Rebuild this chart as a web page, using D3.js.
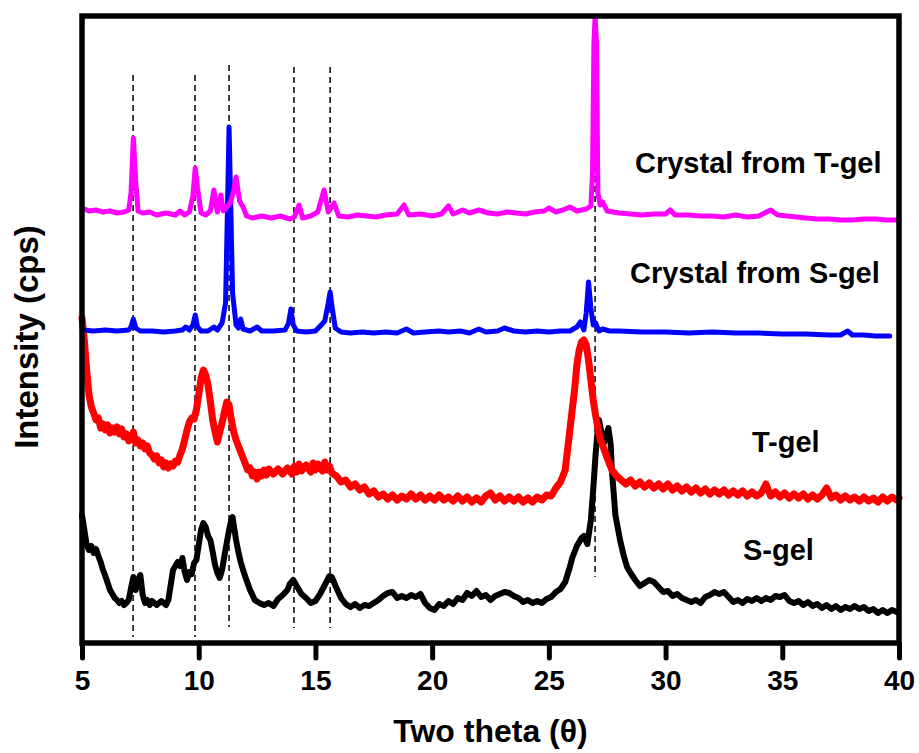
<!DOCTYPE html>
<html>
<head>
<meta charset="utf-8">
<script src="https://cdn.jsdelivr.net/npm/d3@7"></script>
<style>
    body { margin: 0; background: #fff; }
    #chart { width: 919px; height: 753px; }
    text { font-family: "Liberation Sans", Arial, sans-serif; font-weight: bold; fill: #000; }
</style>
</head>
<body>
<div id="chart"></div>
<script>
// two theta (deg), intensity (a.u.)
const crystalTGel = [
    [5.0,435],[5.3,432],[5.6,433],[5.9,431],[6.2,432],[6.5,430],[6.8,431],[7.0,433],[7.1,450],[7.2,505],
    [7.3,462],[7.4,432],[7.6,430],[7.9,431],[8.2,428],[8.6,430],[9.0,428],[9.2,432],[9.4,428],[9.6,431],
    [9.75,447],[9.85,475],[9.95,455],[10.1,430],[10.3,428],[10.5,432],[10.65,453],[10.8,431],[10.95,448],
    [11.05,432],[11.2,436],[11.35,440],[11.5,452],[11.6,466],[11.75,442],[11.9,436],[12.05,427],[12.3,425],
    [12.7,427],[13.1,425],[13.5,427],[13.9,424],[14.1,426],[14.3,438],[14.45,425],[14.8,427],[15.1,431],
    [15.37,453],[15.55,431],[15.8,440],[16.0,427],[16.4,426],[16.8,428],[17.2,427],[17.6,426],[18.0,428],
    [18.5,429],[18.8,438],[19.0,428],[19.5,429],[20.0,427],[20.4,429],[20.7,437],[20.9,429],[21.3,433],
    [21.6,430],[22.0,433],[22.4,430],[22.8,429],[23.2,431],[23.6,430],[24.0,429],[24.4,431],[24.8,432],
    [25.0,435],[25.3,431],[25.6,433],[25.9,436],[26.2,432],[26.6,434],[26.8,437],[26.87,470],[26.93,600],
    [26.98,626],[27.04,600],[27.1,450],[27.2,438],[27.3,441],[27.5,432],[28.0,430],[28.5,429],[29.0,428],
    [29.5,429],[30.0,429],[30.2,433],[30.4,428],[31.0,428],[31.5,427],[32.0,427],[32.5,426],[33.0,428],
    [33.5,426],[34.0,427],[34.5,433],[34.8,428],[35.2,427],[35.6,426],[36.0,425],[36.5,424],[37.0,424],
    [37.5,423],[38.0,423],[38.5,424],[39.0,424],[39.5,423],[40.0,423]
];

const crystalSGel = [
    [5.05,313],[5.5,312],[6.0,313],[6.5,312],[7.0,313],[7.1,316],[7.2,324],[7.3,315],[7.5,312],[8.0,312],
    [8.5,311],[9.0,312],[9.3,313],[9.45,316],[9.6,313],[9.75,318],[9.85,328],[9.95,316],[10.1,312],
    [10.4,312],[10.65,316],[10.8,313],[11.0,320],[11.15,340],[11.22,420],[11.3,516],[11.38,430],
    [11.45,350],[11.6,318],[11.7,315],[11.8,324],[11.9,314],[12.2,312],[12.5,316],[12.7,312],[13.2,312],
    [13.7,313],[13.85,320],[13.95,334],[14.05,318],[14.2,312],[14.6,311],[15.0,312],[15.25,318],
    [15.4,322],[15.55,340],[15.63,351],[15.72,335],[15.85,315],[16.1,311],[16.5,310],[17.0,311],
    [17.5,310],[18.0,311],[18.5,310],[18.9,314],[19.2,310],[19.7,311],[20.3,312],[20.7,311],[21.2,312],
    [21.6,310],[22.0,314],[22.3,311],[22.8,312],[23.1,315],[23.5,312],[24.0,311],[24.5,312],[25.0,311],
    [25.5,312],[25.9,312],[26.2,316],[26.35,321],[26.5,313],[26.6,330],[26.7,361],[26.8,335],[26.9,318],
    [27.0,320],[27.15,312],[27.3,314],[27.6,312],[28.0,312],[29.0,311],[30.0,311],[31.0,310],[32.0,311],
    [33.0,310],[34.0,310],[35.0,309],[36.0,309],[37.0,308],[37.5,308],[37.8,312],[38.0,308],[38.5,308],
    [39.0,307],[39.6,307]
];

const tGel = [
    [5.0,325],[5.1,303],[5.2,273],[5.3,248],[5.4,236],[5.5,230],[5.6,223],[5.7,225],[5.8,215],[5.9,219],
    [6.0,213],[6.1,218],[6.2,210],[6.3,215],[6.4,211],[6.5,216],[6.6,209],[6.7,214],[6.8,206],[6.9,209],
    [7.0,202],[7.1,205],[7.2,211],[7.3,200],[7.4,203],[7.5,197],[7.6,200],[7.7,194],[7.8,197],[7.9,190],
    [8.0,188],[8.1,184],[8.2,187],[8.3,180],[8.4,183],[8.5,176],[8.6,180],[8.7,175],[8.8,179],[8.9,177],
    [9.0,182],[9.1,181],[9.2,188],[9.3,194],[9.4,203],[9.5,213],[9.6,221],[9.7,225],[9.8,224],[9.9,233],
    [10.0,248],[10.1,265],[10.2,273],[10.3,268],[10.4,258],[10.5,241],[10.6,223],[10.7,211],[10.8,201],
    [10.9,211],[11.0,220],[11.1,231],[11.2,241],[11.3,238],[11.4,223],[11.5,211],[11.6,203],[11.7,197],
    [11.8,191],[11.9,185],[12.0,179],[12.1,173],[12.2,175],[12.3,167],[12.4,171],[12.5,164],[12.6,171],
    [12.7,167],[12.8,173],[12.9,168],[13.0,174],[13.2,169],[13.4,174],[13.6,169],[13.8,175],[14.0,169],
    [14.1,177],[14.2,171],[14.3,179],[14.4,172],[14.6,178],[14.8,171],[14.9,180],[15.0,173],[15.1,179],
    [15.3,172],[15.4,181],[15.5,173],[15.6,177],[15.7,170],[15.9,167],[16.1,161],[16.3,163],[16.5,156],
    [16.7,159],[16.9,153],[17.1,156],[17.3,149],[17.5,152],[17.7,146],[17.9,149],[18.1,144],[18.3,148],
    [18.5,143],[18.7,147],[18.9,144],[19.1,149],[19.3,144],[19.5,148],[19.7,143],[19.9,147],[20.1,143],
    [20.3,148],[20.5,143],[20.7,146],[20.9,142],[21.1,147],[21.3,142],[21.5,146],[21.7,141],[21.9,145],
    [22.1,141],[22.3,147],[22.5,150],[22.7,143],[22.9,147],[23.1,142],[23.3,146],[23.5,142],[23.7,146],
    [23.9,141],[24.1,145],[24.3,141],[24.5,146],[24.7,143],[24.9,148],[25.1,147],[25.3,155],[25.5,161],
    [25.7,173],[25.8,193],[25.9,213],[26.0,233],[26.1,253],[26.2,278],[26.3,293],[26.4,301],[26.5,303],
    [26.6,298],[26.7,283],[26.8,263],[26.9,243],[27.0,228],[27.1,215],[27.2,203],[27.3,198],[27.5,185],
    [27.7,173],[27.9,167],[28.1,163],[28.3,159],[28.5,163],[28.7,157],[28.9,161],[29.1,156],[29.3,160],
    [29.5,155],[29.7,159],[29.9,154],[30.1,159],[30.3,153],[30.5,157],[30.7,152],[30.9,156],[31.1,151],
    [31.3,155],[31.5,150],[31.7,154],[31.9,149],[32.1,153],[32.3,149],[32.5,153],[32.7,148],[32.9,152],
    [33.1,148],[33.3,152],[33.5,147],[33.7,151],[33.9,147],[34.1,150],[34.3,159],[34.5,147],[34.7,151],
    [34.9,146],[35.1,150],[35.3,145],[35.5,149],[35.7,145],[35.9,149],[36.1,144],[36.3,148],[36.5,144],
    [36.7,148],[36.9,155],[37.1,145],[37.3,148],[37.5,143],[37.7,147],[37.9,143],[38.1,146],[38.3,142],
    [38.5,146],[38.7,142],[38.9,145],[39.1,141],[39.3,146],[39.5,142],[39.7,146],[39.9,143],[40.0,145]
];

const sGel = [
    [5.0,128],[5.1,113],[5.2,98],[5.3,93],[5.4,97],[5.5,90],[5.6,94],[5.7,87],[5.8,81],[5.9,73],
    [6.0,67],[6.1,60],[6.2,53],[6.3,49],[6.4,45],[6.5,43],[6.6,40],[6.7,42],[6.8,38],[6.9,40],
    [7.0,43],[7.1,55],[7.2,66],[7.3,53],[7.4,63],[7.5,68],[7.6,48],[7.7,40],[7.8,43],[7.9,38],
    [8.0,42],[8.2,38],[8.4,42],[8.6,38],[8.7,43],[8.8,58],[8.9,73],[9.0,77],[9.1,81],[9.2,77],
    [9.3,85],[9.4,71],[9.5,63],[9.6,71],[9.7,69],[9.8,80],[9.9,83],[10.0,98],[10.1,113],[10.2,120],
    [10.3,116],[10.4,107],[10.5,103],[10.6,91],[10.7,78],[10.8,70],[10.9,65],[11.0,73],[11.1,87],
    [11.2,100],[11.3,113],[11.4,123],[11.45,126],[11.5,118],[11.6,103],[11.7,91],[11.8,81],[11.9,73],
    [12.0,66],[12.2,53],[12.4,43],[12.6,40],[12.8,38],[13.0,40],[13.2,37],[13.4,44],[13.6,48],
    [13.8,53],[13.9,59],[14.05,63],[14.2,57],[14.4,49],[14.6,45],[14.8,40],[15.0,42],[15.2,49],
    [15.4,58],[15.6,67],[15.7,66],[15.9,55],[16.1,45],[16.3,39],[16.5,36],[16.7,39],[16.9,35],
    [17.1,38],[17.3,37],[17.5,40],[17.7,43],[17.9,47],[18.1,50],[18.3,51],[18.5,45],[18.7,47],
    [18.9,45],[19.1,48],[19.3,46],[19.5,49],[19.7,40],[19.9,35],[20.1,33],[20.3,39],[20.5,37],
    [20.7,42],[20.9,39],[21.1,45],[21.3,43],[21.5,50],[21.7,47],[21.9,52],[22.1,46],[22.3,48],
    [22.5,43],[22.7,47],[22.9,49],[23.1,51],[23.3,50],[23.5,47],[23.7,45],[23.9,41],[24.1,43],
    [24.3,40],[24.5,42],[24.7,40],[24.9,44],[25.1,46],[25.3,51],[25.5,54],[25.7,61],[25.9,76],
    [26.0,85],[26.2,97],[26.4,105],[26.5,107],[26.65,99],[26.8,123],[26.9,153],[27.0,188],[27.1,215],
    [27.15,223],[27.25,211],[27.35,200],[27.45,207],[27.55,215],[27.65,198],[27.7,173],[27.85,128],
    [28.05,103],[28.2,88],[28.35,76],[28.5,70],[28.7,63],[28.9,57],[29.1,60],[29.3,63],[29.5,61],
    [29.7,56],[29.9,51],[30.1,52],[30.3,47],[30.5,49],[30.7,45],[30.9,43],[31.1,41],[31.3,43],
    [31.5,40],[31.7,46],[31.9,48],[32.1,51],[32.3,49],[32.5,51],[32.7,46],[32.9,41],[33.1,43],
    [33.3,40],[33.5,44],[33.7,42],[33.9,45],[34.1,42],[34.3,45],[34.5,43],[34.7,47],[34.9,46],
    [35.1,48],[35.3,42],[35.5,40],[35.7,42],[35.9,38],[36.1,41],[36.3,37],[36.5,39],[36.7,35],
    [36.9,38],[37.1,34],[37.3,37],[37.5,33],[37.7,36],[37.9,34],[38.1,37],[38.3,34],[38.5,36],
    [38.7,32],[38.9,34],[39.1,30],[39.3,33],[39.5,30],[39.7,33],[39.9,31]
];

// reference peak positions (dashed guides) and their extents
const guideTheta = [7.19, 9.84, 11.30, 14.08, 15.63, 26.98];
const guideTop = [568, 568, 578, 576, 576, 627];
const guideBottom = [6, 6, 16, 15, 15, 66];

const xTicks = [5, 10, 15, 20, 25, 30, 35, 40];
const seriesNames = ["Crystal from T-gel", "Crystal from S-gel", "T-gel", "S-gel"];
const seriesColors = ["#ff00ff", "#0000ff", "#ff0000", "#000000"];

class XrdChart {
    constructor(container) {
        this._container = container;
        this._margin = { top: 16, right: 20, bottom: 110, left: 82 };
        this._width = 919 - this._margin.left - this._margin.right;
        this._height = 753 - this._margin.top - this._margin.bottom;
        // label anchors, pixels inside the plot area
        this._labelPos = [[553, 157], [548, 267], [670, 436], [661, 544]];
        // noisy traces read as thicker bands
        this._strokes = [5, 5, 7, 6];
    }

    render(series) {
        const m = this._margin;
        const svg = d3.select(this._container).append("svg")
            .attr("width", 919)
            .attr("height", 753);
        const g = svg.append("g")
            .attr("transform", "translate(" + m.left + "," + m.top + ")");

        const x = d3.scaleLinear().domain([5, 40]).range([0, this._width]);
        const y = d3.scaleLinear().domain([0, 627]).range([this._height, 0]);

        // dashed guides
        g.append("g").selectAll("line").data(guideTheta)
            .enter().append("line")
            .attr("x1", d => x(d)).attr("x2", d => x(d))
            .attr("y1", (d, i) => y(guideTop[i]))
            .attr("y2", (d, i) => y(guideBottom[i]))
            .attr("stroke", "#000")
            .attr("stroke-width", 1.5)
            .attr("stroke-dasharray", "6,4");

        const line = d3.line().x(d => x(d[0])).y(d => y(d[1]));

        // draw bottom first so the crystal traces sit on top
        const order = [3, 2, 1, 0];
        order.forEach(i => {
            g.append("path")
                .datum(series[i])
                .attr("d", line)
                .attr("fill", "none")
                .attr("stroke", seriesColors[i])
                .attr("stroke-width", this._strokes[i])
                .attr("stroke-linejoin", "round")
                .attr("stroke-linecap", "round");
        });

        // frame
        g.append("rect")
            .attr("x", 0).attr("y", 0)
            .attr("width", this._width).attr("height", this._height)
            .attr("fill", "none")
            .attr("stroke", "#000")
            .attr("stroke-width", 5.5);

        const xAxis = d3.axisBottom(x).tickValues(xTicks).tickSize(15).tickPadding(12)
            .tickFormat(d3.format("d"));
        const ax = g.append("g")
            .attr("transform", "translate(0," + this._height + ")")
            .call(xAxis);
        ax.select(".domain").remove();
        ax.selectAll(".tick line")
            .attr("stroke", "#000")
            .attr("stroke-width", 5)
            .attr("stroke-linecap", "round");
        ax.selectAll(".tick text")
            .attr("font-size", 28)
            .attr("font-family", "'Liberation Sans', Arial, sans-serif")
            .attr("font-weight", "bold")
            .attr("fill", "#000");

        // series labels
        g.append("g").selectAll("text").data(seriesNames)
            .enter().append("text")
            .attr("x", (d, i) => this._labelPos[i][0])
            .attr("y", (d, i) => this._labelPos[i][1])
            .attr("font-size", 29)
            .text(d => d);

        // axis titles
        svg.append("text")
            .attr("x", m.left + this._width / 2)
            .attr("y", 742)
            .attr("text-anchor", "middle")
            .attr("font-size", 32)
            .text("Two theta (\u03b8)");

        svg.append("text")
            .attr("transform", "translate(38,337) rotate(-90)")
            .attr("text-anchor", "middle")
            .attr("font-size", 33)
            .text("Intensity (cps)");

        return this;
    }
}

new XrdChart("#chart").render([crystalTGel, crystalSGel, tGel, sGel]);
</script>
</body>
</html>
